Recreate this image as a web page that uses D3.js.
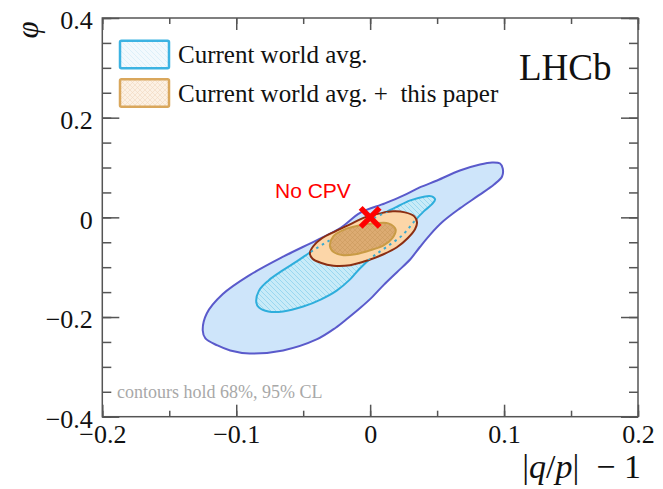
<!DOCTYPE html>
<html>
<head>
<meta charset="utf-8">
<script src="https://cdn.jsdelivr.net/npm/d3@7"></script>
<style>
  body { margin: 0; background: #fff; }
  svg { display: block; }
</style>
</head>
<body>
<div id="chart"></div>
<script>
// contour points: [ |q/p|-1 , phi ]
const worldAvg95 = [
  [-0.125, -0.227], [-0.122, -0.193], [-0.110, -0.154], [-0.090, -0.116],
  [-0.065, -0.079], [-0.040, -0.046], [-0.022, -0.021], [-0.0075, 0.009],
  [0.011, 0.028], [0.025, 0.044], [0.037, 0.060], [0.050, 0.074],
  [0.067, 0.094], [0.082, 0.106], [0.091, 0.110], [0.097, 0.108],
  [0.099, 0.098], [0.0985, 0.082], [0.0925, 0.066], [0.081, 0.044],
  [0.067, 0.018], [0.0545, -0.008], [0.045, -0.034], [0.037, -0.060],
  [0.030, -0.084], [0.020, -0.110], [0.010, -0.136], [0.0015, -0.160],
  [-0.0075, -0.182], [-0.0165, -0.202], [-0.026, -0.222], [-0.040, -0.245],
  [-0.065, -0.267], [-0.090, -0.273], [-0.1045, -0.267], [-0.114, -0.257],
  [-0.123, -0.243]
];
const worldAvg68 = [
  [-0.085, -0.171], [-0.083, -0.147], [-0.076, -0.127], [-0.065, -0.106],
  [-0.0545, -0.088], [-0.0425, -0.066], [-0.030, -0.046], [-0.019, -0.030],
  [-0.0075, -0.016], [0.004, 0.000], [0.013, 0.012], [0.019, 0.020],
  [0.030, 0.034], [0.041, 0.042], [0.046, 0.042], [0.0485, 0.036],
  [0.046, 0.026], [0.040, 0.012], [0.033, -0.008], [0.024, -0.036],
  [0.013, -0.058], [0.0015, -0.080], [-0.0075, -0.102], [-0.015, -0.1245],
  [-0.025, -0.147], [-0.037, -0.165], [-0.050, -0.179], [-0.065, -0.189],
  [-0.076, -0.189], [-0.083, -0.181]
];
const combined95 = [
  [-0.045, -0.072], [-0.0425, -0.058], [-0.036, -0.042], [-0.026, -0.028],
  [-0.015, -0.014], [-0.004, 0.000], [0.0075, 0.008], [0.017, 0.012],
  [0.026, 0.010], [0.033, 0.002], [0.035, -0.010], [0.0335, -0.024],
  [0.028, -0.042], [0.020, -0.060], [0.010, -0.074], [-0.0015, -0.086],
  [-0.015, -0.096], [-0.0275, -0.097], [-0.037, -0.091], [-0.043, -0.083]
];
const combined68 = [
  [-0.030, -0.058], [-0.0275, -0.038], [-0.019, -0.024], [-0.0075, -0.016],
  [0.004, -0.012], [0.0135, -0.012], [0.019, -0.024], [0.0165, -0.042],
  [0.010, -0.056], [0.000, -0.066], [-0.011, -0.074], [-0.020, -0.076],
  [-0.027, -0.070]
];
const noCPV = [0, 0];

const xMajor = [-0.2, -0.1, 0, 0.1, 0.2];
const xMinor = d3.range(-0.2, 0.2001, 0.05);
const yMajor = [-0.4, -0.2, 0, 0.2, 0.4];
const yMinor = d3.range(-0.4, 0.4001, 0.05);

const legendLabels = ["Current world avg.", "Current world avg. +  this paper"];

const width = 663, height = 489;
const plot = { left: 102.3, right: 638, top: 18, bottom: 416.7 };

const svg = d3.select("#chart").append("svg")
  .attr("width", width)
  .attr("height", height);

const defs = svg.append("defs");

// hatch for the 68% world average
const hatch = defs.append("pattern")
  .attr("id", "hatchBlue")
  .attr("patternUnits", "userSpaceOnUse")
  .attr("width", 5).attr("height", 5);
hatch.append("rect").attr("width", 5).attr("height", 5).attr("fill", "#c8ebf8");
hatch.append("path").attr("d", "M-1,-1 L6,6 M-1,4 L1,6 M4,-1 L6,1")
  .attr("stroke", "#86cfec").attr("stroke-width", 0.7);

// cross hatch for the 68% combined
const cross = defs.append("pattern")
  .attr("id", "crossOrange")
  .attr("patternUnits", "userSpaceOnUse")
  .attr("width", 5).attr("height", 5);
cross.append("rect").attr("width", 5).attr("height", 5).attr("fill", "#dcab72");
cross.append("path").attr("d", "M0,0 L5,5 M5,0 L0,5")
  .attr("stroke", "#c8965a").attr("stroke-width", 0.5);

// faint versions for the legend boxes
const hatchL = defs.append("pattern")
  .attr("id", "hatchLegend")
  .attr("patternUnits", "userSpaceOnUse")
  .attr("width", 5).attr("height", 5);
hatchL.append("rect").attr("width", 5).attr("height", 5).attr("fill", "#f2f9fd");
hatchL.append("path").attr("d", "M-1,-1 L6,6")
  .attr("stroke", "#d8eef8").attr("stroke-width", 0.8);

const crossL = defs.append("pattern")
  .attr("id", "crossLegend")
  .attr("patternUnits", "userSpaceOnUse")
  .attr("width", 5).attr("height", 5);
crossL.append("rect").attr("width", 5).attr("height", 5).attr("fill", "#fcf1e4");
crossL.append("path").attr("d", "M0,0 L5,5 M5,0 L0,5")
  .attr("stroke", "#f0d9bf").attr("stroke-width", 0.6);

const x = d3.scaleLinear().domain([-0.2, 0.2]).range([plot.left, plot.right]);
const y = d3.scaleLinear().domain([-0.4, 0.4]).range([plot.bottom, plot.top]);

const contour = d3.line()
  .x(d => x(d[0]))
  .y(d => y(d[1]))
  .curve(d3.curveCatmullRomClosed.alpha(0.5));

defs.append("clipPath").attr("id", "combClip")
  .append("path").attr("d", contour(combined95));

// world average 95%
svg.append("path")
  .attr("d", contour(worldAvg95))
  .attr("fill", "#cee5fa")
  .attr("stroke", "#5a5acb")
  .attr("stroke-width", 2);

// world average 68%
svg.append("path")
  .attr("d", contour(worldAvg68))
  .attr("fill", "url(#hatchBlue)")
  .attr("stroke", "#2eaedc")
  .attr("stroke-width", 2);

// combined 95%
svg.append("path")
  .attr("d", contour(combined95))
  .attr("fill", "#fcd6a8")
  .attr("stroke", "#8b2e12")
  .attr("stroke-width", 2);

// world average 68% seen through the combined region
svg.append("path")
  .attr("d", contour(worldAvg68))
  .attr("clip-path", "url(#combClip)")
  .attr("fill", "none")
  .attr("stroke", "#3aa9cf")
  .attr("stroke-width", 2)
  .attr("stroke-dasharray", "2.5,4");

// combined 68%
svg.append("path")
  .attr("d", contour(combined68))
  .attr("fill", "url(#crossOrange)")
  .attr("stroke", "#c99b45")
  .attr("stroke-width", 2);

// no CPV marker
const cx = x(noCPV[0]), cy = y(noCPV[1]), s = 9.5;
svg.append("path")
  .attr("d", `M${cx - s},${cy - s}L${cx + s},${cy + s}M${cx - s},${cy + s}L${cx + s},${cy - s}`)
  .attr("stroke", "#ff0000")
  .attr("stroke-width", 5.5);

svg.append("text")
  .attr("x", 275).attr("y", 198)
  .style("font-family", "'Liberation Sans', Arial, sans-serif")
  .style("font-size", "21px")
  .style("fill", "#ff0000")
  .text("No CPV");

// frame
svg.append("rect")
  .attr("x", plot.left).attr("y", plot.top)
  .attr("width", plot.right - plot.left)
  .attr("height", plot.bottom - plot.top)
  .attr("fill", "none")
  .attr("stroke", "#555")
  .attr("stroke-width", 1.5);

const fmt = d => d === 0 ? "0" : d3.format(".1f")(d);
const tickFont = "'Liberation Serif', 'Times New Roman', serif";

function styleAxis(g) {
  g.select(".domain").remove();
  g.selectAll("line").attr("stroke", "#555").attr("stroke-width", 1.5);
  g.selectAll("text")
    .style("font-family", tickFont)
    .style("font-size", "26px")
    .attr("fill", "#111");
}

// x axis bottom
svg.append("g")
  .attr("transform", `translate(0,${plot.bottom})`)
  .call(d3.axisBottom(x).tickValues(xMinor).tickSize(-6).tickFormat(""))
  .call(styleAxis);
svg.append("g")
  .attr("transform", `translate(0,${plot.bottom})`)
  .call(d3.axisBottom(x).tickValues(xMajor).tickSize(-12).tickPadding(8).tickFormat(fmt))
  .call(styleAxis);
// x axis top
svg.append("g")
  .attr("transform", `translate(0,${plot.top})`)
  .call(d3.axisTop(x).tickValues(xMinor).tickSize(-6).tickFormat(""))
  .call(styleAxis);
svg.append("g")
  .attr("transform", `translate(0,${plot.top})`)
  .call(d3.axisTop(x).tickValues(xMajor).tickSize(-12).tickFormat(""))
  .call(styleAxis);

// y axis left
svg.append("g")
  .attr("transform", `translate(${plot.left},0)`)
  .call(d3.axisLeft(y).tickValues(yMinor).tickSize(-9).tickFormat(""))
  .call(styleAxis);
svg.append("g")
  .attr("transform", `translate(${plot.left},0)`)
  .call(d3.axisLeft(y).tickValues(yMajor).tickSize(-17).tickPadding(9.5).tickFormat(fmt))
  .call(styleAxis)
  .selectAll("text").attr("dy", "0.42em");
// y axis right
svg.append("g")
  .attr("transform", `translate(${plot.right},0)`)
  .call(d3.axisRight(y).tickValues(yMinor).tickSize(-9).tickFormat(""))
  .call(styleAxis);
svg.append("g")
  .attr("transform", `translate(${plot.right},0)`)
  .call(d3.axisRight(y).tickValues(yMajor).tickSize(-17).tickFormat(""))
  .call(styleAxis);

// axis titles
const xTitle = svg.append("text")
  .attr("x", 641).attr("y", 478)
  .attr("text-anchor", "end")
  .style("font-family", tickFont)
  .style("font-size", "34px")
  .attr("fill", "#111");
xTitle.append("tspan").text("|");
xTitle.append("tspan").style("font-style", "italic").text("q");
xTitle.append("tspan").text("/");
xTitle.append("tspan").style("font-style", "italic").text("p");
xTitle.append("tspan").text("|\u2002\u2212 1");

svg.append("text")
  .attr("transform", "translate(38,30) rotate(-90)")
  .attr("text-anchor", "middle")
  .style("font-family", tickFont)
  .style("font-size", "31px")
  .style("font-style", "italic")
  .attr("fill", "#111")
  .text("\u03c6");

// legend
const legend = svg.append("g");
const boxes = [
  { fill: "url(#hatchLegend)", stroke: "#3cb3e2" },
  { fill: "url(#crossLegend)", stroke: "#d9a75c" }
];
legendLabels.forEach((label, i) => {
  const top = 40.7 + i * 38.5;
  legend.append("rect")
    .attr("x", 120).attr("y", top)
    .attr("width", 49).attr("height", 27.5)
    .attr("rx", 1.5)
    .attr("fill", boxes[i].fill)
    .attr("stroke", boxes[i].stroke)
    .attr("stroke-width", 2.5);
  legend.append("text")
    .attr("x", 178).attr("y", top + 22.5)
    .style("font-family", tickFont)
    .style("font-size", "25px")
    .style("white-space", "pre")
    .attr("fill", "#111")
    .text(label);
});

svg.append("text")
  .attr("x", 519).attr("y", 80)
  .style("font-family", tickFont)
  .style("font-size", "37px")
  .attr("fill", "#111")
  .text("LHCb");

svg.append("text")
  .attr("x", 117).attr("y", 398)
  .style("font-family", tickFont)
  .style("font-size", "18px")
  .attr("fill", "#a8a8a8")
  .text("contours hold 68%, 95% CL");
</script>
</body>
</html>
